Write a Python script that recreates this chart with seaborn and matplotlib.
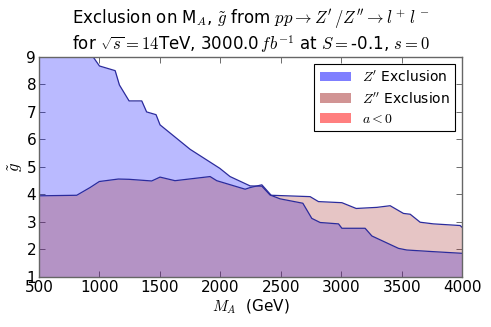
import matplotlib
matplotlib.use("Agg")
import matplotlib.pyplot as plt
import matplotlib.patches as mpatches
import seaborn as sns
import pandas as pd

# ==== DATA ====
zp_mass = [500, 900, 1000, 1130, 1165, 1245, 1350, 1390, 1468, 1501, 1750, 1995, 2080,
           2246, 2343, 2411, 2494, 2682, 2756, 2825, 2977, 3005, 3197, 3253, 3473,
           3542, 3762, 4000]
zp_coupling = [9.6, 9.3, 8.67, 8.50, 7.98, 7.40, 7.40, 7.00, 6.90, 6.53, 5.64, 4.95, 4.65,
               4.31, 4.30, 3.98, 3.84, 3.68, 3.13, 2.98, 2.93, 2.77, 2.77, 2.49, 2.04,
               1.98, 1.92, 1.86]

zpp_mass = [500, 812, 922, 999, 1156, 1245, 1432, 1501, 1625, 1915, 1970, 2205, 2246,
            2343, 2420, 2742, 2811, 3005, 3123, 3294, 3404, 3514, 3570, 3652, 3762,
            3983, 4000]
zpp_coupling = [3.95, 3.97, 4.25, 4.47, 4.56, 4.55, 4.49, 4.63, 4.50, 4.65, 4.50, 4.19,
                4.25, 4.35, 3.97, 3.92, 3.74, 3.70, 3.49, 3.53, 3.59, 3.31, 3.28, 2.99,
                2.93, 2.87, 2.80]

legend_labels = [r"$Z^\prime$ Exclusion", r"$Z^{\prime\prime}$ Exclusion", r"$a<0$"]

# ==== STYLE ====
sns.set_style("ticks")
plt.rcParams["font.family"] = ["DejaVu Sans"]
plt.rcParams["mathtext.fontset"] = "cm"
plt.rcParams["xtick.direction"] = "in"
plt.rcParams["ytick.direction"] = "in"
plt.rcParams["text.color"] = "black"
plt.rcParams["axes.labelcolor"] = "black"
plt.rcParams["xtick.labelcolor"] = "black"
plt.rcParams["ytick.labelcolor"] = "black"

zp = pd.DataFrame({"mass": zp_mass, "g": zp_coupling})
zpp = pd.DataFrame({"mass": zpp_mass, "g": zpp_coupling})

fig = plt.figure(figsize=(4.91, 3.27), dpi=100)
ax = fig.add_axes([0.0794, 0.153, 0.862, 0.673])

# ==== PLOT ====
ax.fill_between(zp["mass"], 0, zp["g"], color="blue", alpha=0.27, linewidth=0)
ax.fill_between(zpp["mass"], 0, zpp["g"], color="brown", alpha=0.27, linewidth=0)
sns.lineplot(data=zp, x="mass", y="g", ax=ax, color="#2b2b9c", linewidth=0.9,
             sort=False, estimator=None)
sns.lineplot(data=zpp, x="mass", y="g", ax=ax, color="#2b2b9c", linewidth=0.9,
             sort=False, estimator=None)

ax.set_xlim(500, 4000)
ax.set_ylim(1, 9)
ax.set_xticks(range(500, 4001, 500))
ax.set_yticks(range(1, 10))
ax.tick_params(labelsize=11, top=True, right=True, length=4, width=0.6, color="#555555", pad=2)
for sp in ax.spines.values():
    sp.set_visible(True)
    sp.set_color("#666666")
    sp.set_linewidth(1.0)

ax.set_xlabel(r"$M_A$  (GeV)", fontsize=11, labelpad=2)
ax.set_ylabel(r"$\tilde{g}$", fontsize=12, labelpad=1)
ax.set_title("Exclusion on M$_A$, $\\tilde{g}$ from $pp \\rightarrow Z^\\prime\\,/Z^{\\prime\\prime} \\rightarrow l^+\\,l^-$\n"
             "for $\\sqrt{s}=14$TeV, 3000.0$\\,fb^{-1}$ at $S=$-0.1, $s=0$",
             fontsize=12, pad=5, linespacing=1.15)

handles = [mpatches.Patch(facecolor="blue", edgecolor="none", alpha=0.5),
           mpatches.Patch(facecolor="brown", edgecolor="none", alpha=0.5),
           mpatches.Patch(facecolor="red", edgecolor="none", alpha=0.5)]
leg = ax.legend(handles, legend_labels, loc="upper right", fontsize=10, fancybox=False,
                framealpha=1, edgecolor="black", handlelength=2.2, handleheight=0.7,
                borderaxespad=0.5, labelspacing=0.45, handletextpad=0.8)
leg.get_frame().set_linewidth(0.8)

fig.savefig("out.png", dpi=100)
